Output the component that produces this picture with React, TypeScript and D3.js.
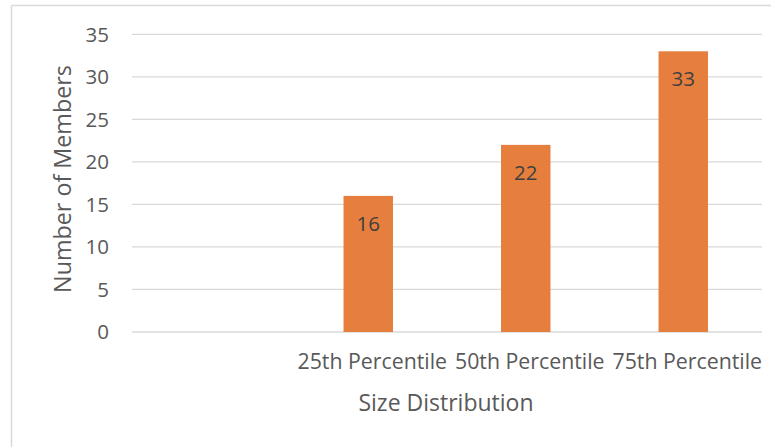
import React from "react";
import * as d3 from "d3";

const categories = ["", "25th Percentile", "50th Percentile", "75th Percentile"];
const values: (number | null)[] = [null, 16, 22, 33];
const yTicks = [0, 5, 10, 15, 20, 25, 30, 35];
const xTitle = "Size Distribution";
const yTitle = "Number of Members";

const W = 776;
const H = 447;
const FONT = "'Open Sans', 'Noto Sans', sans-serif";

export default function App() {
  const x = d3.scaleBand<string>().domain(categories.map((c, i) => String(i))).range([132, 762]).paddingInner(0.686).paddingOuter(0.343);
  const y = d3.scaleLinear().domain([0, 35]).range([332, 34.3]);
  const step = x.step();
  const bw = step * 0.314;

  return (
    <svg width={W} height={H} style={{ position: "absolute", left: 0, top: 0, background: "#fff" }}>
      <rect x={0} y={0} width={W} height={H} fill="#fff" />
      <line x1={11.5} y1={5.5} x2={771} y2={5.5} stroke="#d9d9d9" strokeWidth={1.5} />
      <line x1={11.5} y1={5.5} x2={11.5} y2={H} stroke="#d9d9d9" strokeWidth={1.5} />
      {yTicks.map((t) => (
        <g key={t}>
          <line x1={132} x2={762} y1={y(t)} y2={y(t)} stroke="#d9d9d9" strokeWidth={1.3} />
          <text x={109} y={y(t)} dy="0.36em" textAnchor="end" fontFamily={FONT} fontSize={20.5} fill="#595959">
            {t}
          </text>
        </g>
      ))}
      {categories.map((c, i) => {
        const v = values[i];
        const cx = (x(String(i)) as number) + x.bandwidth() / 2;
        return (
          <g key={i}>
            {v != null && (
              <>
                <rect x={cx - bw / 2} y={y(v)} width={bw} height={y(0) - y(v)} fill="#E67F3E" />
                <text x={cx} y={y(v) + 35} textAnchor="middle" fontFamily={FONT} fontSize={20.5} fill="#404040">
                  {v}
                </text>
              </>
            )}
            <text x={cx + 4} y={369} textAnchor="middle" fontFamily={FONT} fontSize={21.3} fill="#595959">
              {c}
            </text>
          </g>
        );
      })}
      <text x={446} y={411} textAnchor="middle" fontFamily={FONT} fontSize={23} fill="#595959">
        {xTitle}
      </text>
      <text transform={`translate(71,179) rotate(-90)`} textAnchor="middle" fontFamily={FONT} fontSize={23.3} fill="#595959">
        {yTitle}
      </text>
    </svg>
  );
}
